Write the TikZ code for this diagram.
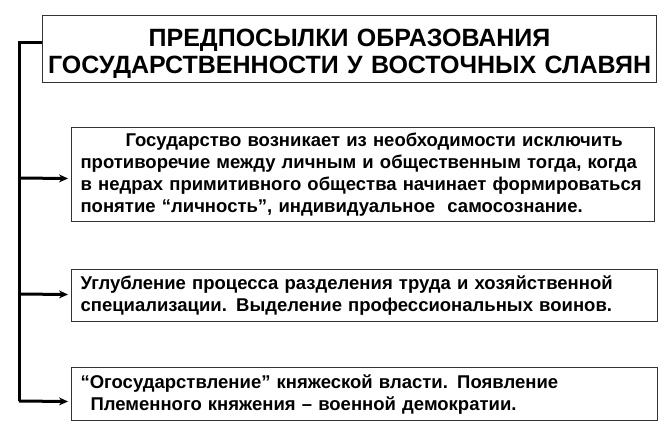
\documentclass[tikz,border=0pt]{standalone}
\usepackage{fontspec}
\setmainfont{Liberation Sans}
\usetikzlibrary{arrows.meta}
\begin{document}
\begin{tikzpicture}[x=1pt,y=-1pt,
  box/.style={draw=black!80, line width=1.1pt, fill=white, anchor=north west,
    inner ysep=0pt, inner xsep=9pt, align=left, font=\bfseries\fontsize{18.5}{22}\selectfont},
  conn/.style={line width=3pt, black},
  arr/.style={line width=3pt, black, -{Stealth[length=9pt,width=8pt]}, shorten >=3pt}]
\useasboundingbox (0,0) rectangle (667,433);
\node[box, minimum width=614pt, minimum height=67pt, inner xsep=0pt, text width=614pt, align=center,
  font=\bfseries\fontsize{25}{27}\selectfont] (title) at (42,15)
  {\rule{0pt}{26pt}ПРЕДПОСЫЛКИ ОБРАЗОВАНИЯ\\ГОСУДАРСТВЕННОСТИ У ВОСТОЧНЫХ СЛАВЯН};
\node[box, minimum width=583pt, minimum height=94pt, text width=565pt] (b1) at (71,127)
  {\hspace*{45pt}Государство возникает из необходимости исключить\\
   противоречие между личным и общественным тогда, когда\\
   в недрах примитивного общества начинает формироваться\\
   понятие “личность”, индивидуальное~ самосознание.};
\node[box, minimum width=586pt, minimum height=52pt, text width=568pt] (b2) at (71,269)
  {Углубление процесса разделения труда и хозяйственной\\
   специализации. Выделение профессиональных воинов.};
\node[box, minimum width=586pt, minimum height=53pt, text width=568pt] (b3) at (71,367)
  {“Огосударствление” княжеской власти. Появление\\
   \hspace*{10pt}Племенного княжения – военной демократии.};
\coordinate (s1) at (19,178);
\coordinate (s2) at (19,294);
\coordinate (s3) at (19,401);
\draw[conn] ([yshift=-28pt]title.north west) -| (s3);
\draw[arr] (s1) -- ([yshift=-4pt]b1.west);
\draw[arr] (s2) -- ([yshift=1pt]b2.west);
\draw[arr] (s3) -- ([yshift=-7.5pt]b3.west);
\end{tikzpicture}
\end{document}
